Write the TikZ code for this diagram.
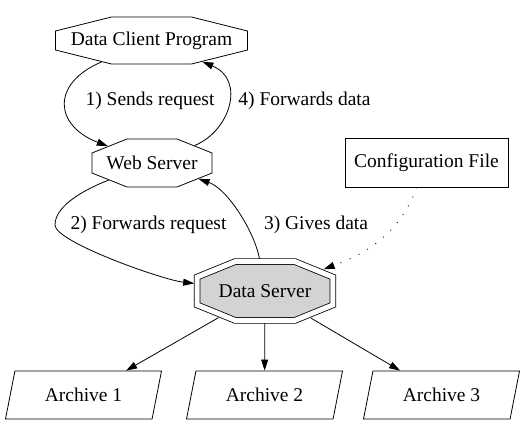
\documentclass[tikz,border=0pt]{standalone}
\usepackage{fontspec}
\setmainfont{Liberation Serif}
\usetikzlibrary{shapes.geometric, arrows.meta}
\definecolor{dsgray}{RGB}{211,211,211}

% octagon with its own corner cuts, for the servers
\makeatletter
\pgfkeys{/pgf/oct cut x/.initial=10pt, /pgf/oct cut y/.initial=5pt}
\pgfdeclareshape{gvoctagon}{%
  \inheritsavedanchors[from=rectangle]%
  \inheritanchor[from=rectangle]{center}%
  \inheritanchor[from=rectangle]{text}%
  \inheritanchor[from=rectangle]{base}%
  \inheritanchor[from=rectangle]{north}%
  \inheritanchor[from=rectangle]{south}%
  \inheritanchor[from=rectangle]{east}%
  \inheritanchor[from=rectangle]{west}%
  \saveddimen\octcx{\pgfmathsetlength\pgf@x{\pgfkeysvalueof{/pgf/oct cut x}}}%
  \saveddimen\octcy{\pgfmathsetlength\pgf@x{\pgfkeysvalueof{/pgf/oct cut y}}}%
  \backgroundpath{%
    \southwest \pgf@xa=\pgf@x \pgf@ya=\pgf@y
    \northeast \pgf@xb=\pgf@x \pgf@yb=\pgf@y
    \pgfmathsetlength\pgf@xc{\pgfkeysvalueof{/pgf/outer xsep}}%
    \pgfmathsetlength\pgf@yc{\pgfkeysvalueof{/pgf/outer ysep}}%
    \advance\pgf@xa by\pgf@xc \advance\pgf@ya by\pgf@yc
    \advance\pgf@xb by-\pgf@xc \advance\pgf@yb by-\pgf@yc
    \edef\oct@l{\the\pgf@xa}\edef\oct@r{\the\pgf@xb}%
    \edef\oct@b{\the\pgf@ya}\edef\oct@t{\the\pgf@yb}%
    \advance\pgf@xa by\octcx \advance\pgf@xb by-\octcx
    \advance\pgf@ya by\octcy \advance\pgf@yb by-\octcy
    \edef\oct@li{\the\pgf@xa}\edef\oct@ri{\the\pgf@xb}%
    \edef\oct@bi{\the\pgf@ya}\edef\oct@ti{\the\pgf@yb}%
    \pgfpathmoveto{\pgfqpoint{\oct@li}{\oct@t}}%
    \pgfpathlineto{\pgfqpoint{\oct@ri}{\oct@t}}%
    \pgfpathlineto{\pgfqpoint{\oct@r}{\oct@ti}}%
    \pgfpathlineto{\pgfqpoint{\oct@r}{\oct@bi}}%
    \pgfpathlineto{\pgfqpoint{\oct@ri}{\oct@b}}%
    \pgfpathlineto{\pgfqpoint{\oct@li}{\oct@b}}%
    \pgfpathlineto{\pgfqpoint{\oct@l}{\oct@bi}}%
    \pgfpathlineto{\pgfqpoint{\oct@l}{\oct@ti}}%
    \pgfpathclose
  }%
  \anchorborder{%
    \edef\oct@dx{\the\pgf@x}\edef\oct@dy{\the\pgf@y}%
    \southwest \pgf@xa=\pgf@x \pgf@ya=\pgf@y
    \northeast \pgf@xb=\pgf@x \pgf@yb=\pgf@y
    \pgf@xc=\pgf@xb \advance\pgf@xc by-\pgf@xa \pgf@xc=.5\pgf@xc
    \pgf@yc=\pgf@yb \advance\pgf@yc by-\pgf@ya \pgf@yc=.5\pgf@yc
    \advance\pgf@xa by\pgf@xc \advance\pgf@ya by\pgf@yc
    \edef\oct@mx{\the\pgf@xa}\edef\oct@my{\the\pgf@ya}%
    \edef\oct@W{\the\pgf@xc}\edef\oct@H{\the\pgf@yc}%
    \edef\oct@kx{\octcx}\edef\oct@ky{\octcy}%
    \pgfmathsetmacro\oct@f{1/max(max(abs(\oct@dx)/\oct@W, abs(\oct@dy)/\oct@H),
      (\oct@ky*abs(\oct@dx)+\oct@kx*abs(\oct@dy))/(\oct@ky*\oct@W+\oct@kx*\oct@H-\oct@kx*\oct@ky))}%
    \pgf@x=\oct@dx\relax \pgf@x=\oct@f\pgf@x \advance\pgf@x by\oct@mx\relax
    \pgf@y=\oct@dy\relax \pgf@y=\oct@f\pgf@y \advance\pgf@y by\oct@my\relax
  }%
}
\makeatother

\begin{document}
\begin{tikzpicture}[x=1pt, y=-1pt, line width=0.8pt,
        >={Triangle[length=11pt,width=7pt]},
        every node/.style={font=\fontsize{19.5}{23}\selectfont},
        octnode/.style={shape=gvoctagon, draw, inner sep=0pt},
        archnode/.style={trapezium, draw, trapezium left angle=55.5,
            trapezium right angle=124.5, trapezium stretches body,
            inner sep=0pt, minimum width=156pt, minimum height=48pt},
        dotline/.style={dash pattern=on 1pt off 9pt}]

            \useasboundingbox (0,0) rectangle (526,436);

            % draw the client and the web server
            \node[octnode, minimum width=192pt, minimum height=47pt,
                oct cut x=56pt, oct cut y=14pt] (client) at (151.5,40.5) {Data Client Program};
            \node[octnode, minimum width=120pt, minimum height=48pt,
                oct cut x=35pt, oct cut y=14pt] (web) at (152,163) {Web Server};

            % draw the configuration file
            \node[draw, minimum width=163pt, minimum height=49pt] (config) at (426.5,162.5) {Configuration File};

            % draw the data server with its double border
            \node[octnode, fill=dsgray, double, double distance=5pt, outer sep=2.9pt,
                minimum width=135.8pt, minimum height=58.8pt,
                oct cut x=38pt, oct cut y=15.5pt] (ds) at (265,291) {Data Server};

            % draw the archives
            \node[archnode] (arch1) at (83.5,395) {Archive 1};
            \node[archnode] (arch2) at (264.5,395) {Archive 2};
            \node[archnode] (arch3) at (441.5,395) {Archive 3};

            % draw request from client to web server
            \draw[->] (client) .. controls (50,84) and (55,126) .. (web);
            \node (sends) at (150,101) {1) Sends request};

            % draw data back from web server to client
            \draw[->] (web) .. controls (230,131) and (246,80) .. (client);
            \node (fwdata) at (304.5,101) {4) Forwards data};

            % draw request from web server to data server
            \draw[->] (web) .. controls (86,189) and (55,205) .. (55,225)
                .. controls (55,242) and (163,280) .. (ds);
            \node (fwreq) at (148.5,225) {2) Forwards request};

            % draw data from data server to web server
            \draw[->] (ds) .. controls (255,233) and (228,189) .. (web);
            \node (gives) at (316,225) {3) Gives data};

            % draw dotted line from configuration file
            \draw[->, dotline] (config) .. controls (398,237) and (362,255) .. (ds);

            % draw lines to the archives
            \draw[->] (ds) -- (arch1);
            \draw[->] (ds) -- (arch2);
            \draw[->] (ds) -- (arch3);
\end{tikzpicture}
\end{document}
